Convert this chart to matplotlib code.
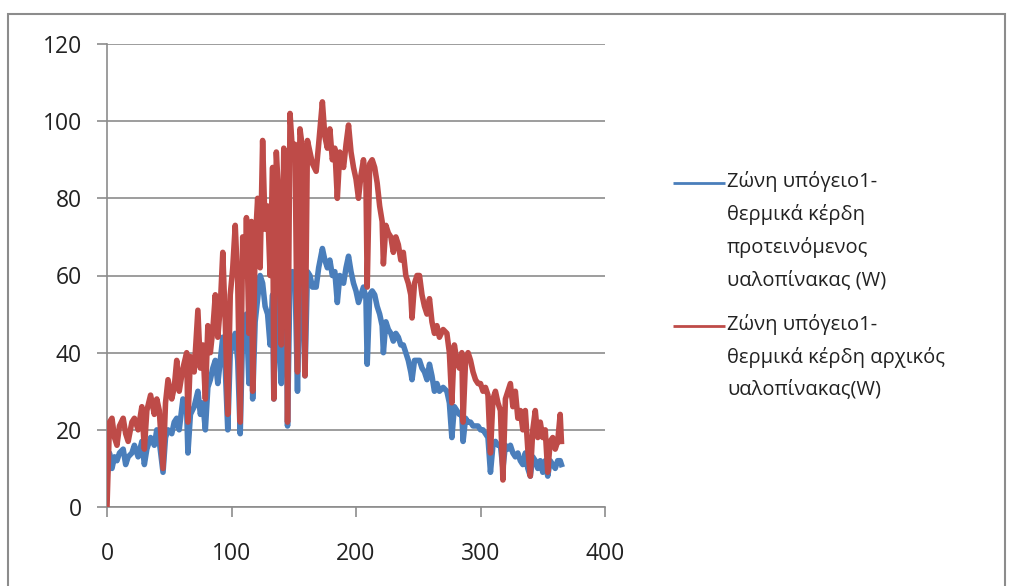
import matplotlib
matplotlib.use("Agg")
import matplotlib.pyplot as plt
from matplotlib.lines import Line2D
from matplotlib.patches import Rectangle

plt.rcParams['font.family'] = ['Open Sans', 'DejaVu Sans']

# day of year (shared x values)
days = [0, 2, 4, 6, 8, 10, 13, 15, 17, 20, 22, 25, 28, 30, 32, 35, 38, 40, 42, 45,
        47, 49, 52, 54, 56, 58, 61, 64, 65, 67, 70, 73, 75, 77, 79, 81, 83, 85, 87, 89,
        91, 93, 95, 97, 99, 101, 103, 105, 107, 109, 111, 112, 114, 116, 117, 119, 121, 123, 125, 127,
        129, 131, 133, 134, 136, 138, 140, 142, 144, 145, 147, 149, 151, 153, 155, 157, 159, 161, 163, 165,
        168, 170, 173, 175, 177, 179, 181, 183, 185, 187, 190, 192, 194, 196, 198, 200, 202, 204, 206, 208,
        209, 211, 213, 215, 217, 219, 221, 222, 224, 226, 228, 230, 232, 234, 236, 238, 240, 242, 244, 245,
        247, 249, 251, 253, 255, 257, 259, 261, 263, 265, 267, 270, 273, 275, 277, 279, 281, 283, 285, 286,
        288, 290, 292, 294, 296, 298, 300, 302, 304, 306, 308, 310, 312, 314, 316, 318, 320, 322, 324, 326,
        328, 330, 332, 334, 336, 338, 340, 342, 344, 346, 348, 350, 352, 354, 356, 358, 360, 362, 364, 365]

# proposed glazing (W)
proposed = [8, 14, 10, 13, 12, 14, 15, 11, 13, 14, 16, 13, 17, 11, 15, 18, 16, 20, 17, 9,
            18, 20, 19, 22, 23, 20, 28, 25, 14, 24, 26, 30, 24, 27, 20, 31, 33, 36, 38, 32,
            38, 44, 36, 20, 40, 42, 45, 38, 19, 46, 42, 50, 32, 52, 28, 48, 54, 60, 58, 52,
            50, 42, 55, 28, 56, 45, 32, 58, 55, 21, 60, 61, 60, 30, 62, 60, 34, 61, 60, 57,
            57, 62, 67, 64, 62, 64, 60, 61, 53, 60, 58, 62, 65, 61, 58, 56, 53, 55, 57, 54,
            37, 55, 56, 55, 52, 50, 47, 40, 48, 46, 45, 43, 45, 44, 42, 42, 40, 38, 35, 33,
            38, 38, 38, 36, 35, 33, 37, 34, 30, 32, 30, 31, 30, 27, 18, 26, 25, 24, 24, 17,
            23, 22, 22, 21, 21, 21, 20, 20, 19, 18, 9, 16, 17, 16, 16, 10, 16, 15, 16, 14,
            13, 14, 12, 11, 14, 10, 8, 13, 12, 10, 12, 9, 12, 8, 12, 11, 10, 12, 12, 11]

# original glazing (W)
original = [0, 22, 23, 18, 16, 21, 23, 19, 17, 22, 23, 20, 26, 15, 25, 29, 24, 28, 25, 10,
            27, 33, 28, 31, 38, 30, 36, 40, 22, 39, 35, 51, 36, 42, 28, 47, 40, 46, 55, 44,
            52, 66, 48, 24, 55, 62, 73, 58, 22, 70, 60, 75, 45, 74, 30, 68, 80, 62, 95, 72,
            78, 60, 88, 28, 92, 80, 42, 93, 88, 22, 102, 92, 94, 35, 98, 93, 34, 95, 92, 89,
            87, 94, 105, 96, 93, 98, 90, 93, 80, 92, 88, 94, 99, 92, 88, 85, 80, 86, 90, 84,
            57, 89, 90, 88, 84, 78, 74, 63, 73, 71, 70, 66, 70, 68, 64, 66, 60, 58, 55, 49,
            58, 60, 60, 55, 52, 50, 54, 48, 45, 47, 44, 46, 45, 40, 27, 42, 38, 36, 40, 22,
            38, 40, 38, 35, 33, 32, 32, 30, 31, 29, 14, 28, 30, 27, 25, 7, 28, 30, 32, 26,
            30, 23, 25, 20, 25, 15, 8, 20, 25, 18, 22, 18, 20, 9, 17, 18, 15, 17, 24, 17]

labels = ["Ζώνη υπόγειο1-\nθερμικά κέρδη\nπροτεινόμενος\nυαλοπίνακας (W)",
          "Ζώνη υπόγειο1-\nθερμικά κέρδη αρχικός\nυαλοπίνακας(W)"]
colors = ["#4A7EBB", "#BE4B48"]

W, H = 1010, 586
fig = plt.figure(figsize=(W / 100, H / 100), dpi=100)
ax = fig.add_axes([107 / W, 1 - 507 / H, 498 / W, 463 / H])

ax.plot(days, proposed, color=colors[0], lw=4.0, zorder=3)
ax.plot(days, original, color=colors[1], lw=4.0, zorder=4)

ax.set_xlim(0, 400)
ax.set_ylim(0, 120)
ax.set_xticks(range(0, 401, 100))
ax.set_yticks(range(0, 121, 20))
ax.yaxis.grid(True, color="#8c8c8c", lw=1.2)
ax.set_axisbelow(True)
for s in ("top", "right"):
    ax.spines[s].set_visible(False)
for s in ("left", "bottom"):
    ax.spines[s].set_color("#8c8c8c")
    ax.spines[s].set_linewidth(1.2)
ax.tick_params(axis="both", colors="#8c8c8c", length=7, width=1.2, labelsize=16.5,
               labelcolor="#222222")
ax.tick_params(axis="x", pad=18)
ax.tick_params(axis="y", pad=11)

# legend drawn by hand: handle sits on the first text line, like Excel does
for i, (lab, c) in enumerate(zip(labels, colors)):
    y0 = [183, 326][i]
    fig.add_artist(Line2D([673 / W, 725 / W], [1 - y0 / H, 1 - y0 / H], color=c, lw=2,
                          solid_capstyle="butt"))
    fig.text(727 / W, 1 - (y0 - 12) / H, lab, fontsize=14.5, color="#222222",
             va="top", ha="left", linespacing=1.76)

# outer chart border
fig.add_artist(Rectangle((8 / W, -0.05), 997 / W, 1.05 - 14 / H, fill=False,
                         edgecolor="#8c8c8c", lw=1.5, transform=fig.transFigure))

fig.savefig("out.png", dpi=100)
